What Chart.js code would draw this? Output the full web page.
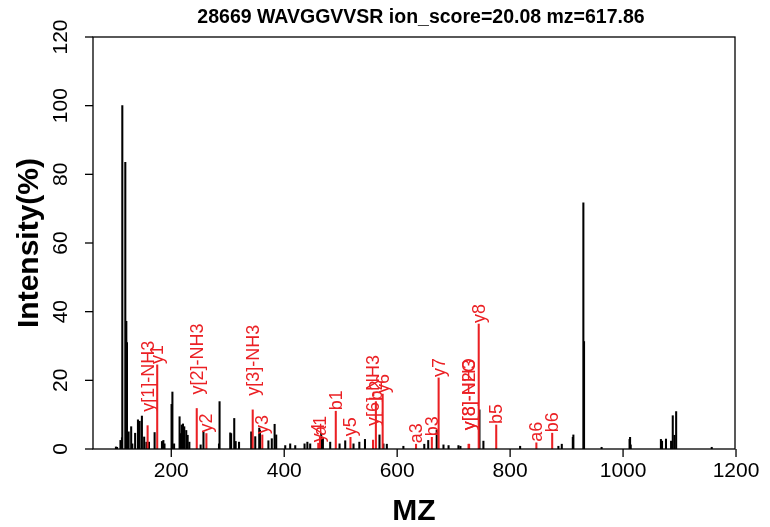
<!DOCTYPE html>
<html>
<head>
<meta charset="utf-8">
<script src="https://cdn.jsdelivr.net/npm/chart.js@4/dist/chart.umd.min.js"></script>
<style>
html,body{margin:0;padding:0;background:#fff;}
#wrap{width:770px;height:527px;position:relative;}
</style>
</head>
<body>
<div id="wrap"><canvas id="c" width="770" height="527"></canvas></div>
<script>
// ---- data ----
const titleText = "28669 WAVGGVVSR ion_score=20.08 mz=617.86";
const xTicks = [200, 400, 600, 800, 1000, 1200];
const yTicks = [0, 20, 40, 60, 80, 100, 120];

// unannotated peaks (black)
const peakMz = [102, 104, 110, 112.7, 113.3, 118.6, 120.4, 121.6, 124.5, 129, 131, 136, 141, 144, 148, 152, 156, 160.5, 170.5, 183.5, 186, 188,
  200.5, 202, 205, 214.7, 217, 218.5, 220.7, 223, 226.5, 229, 232, 252, 257, 284.5, 285.5, 304.4, 306, 311.5, 314, 320,
  341.6, 348.7, 355.8, 357, 372, 378, 383, 385.8, 401.8, 410.6, 419.5, 436, 441, 446, 465.5, 468.5,
  481.4, 498, 508, 522.7, 533, 543, 568.7, 575.7, 581.7, 611, 648, 655, 670, 682, 691, 708.5, 712,
  745.7, 752.7, 817.7, 885.5, 891.5, 911, 912, 929.7, 930.9, 962, 1011.5, 1012.4, 1013.5,
  1067, 1069, 1076, 1085, 1088, 1091, 1094, 1157];
const peakInt = [0.6, 0.5, 2.5, 3.3, 100, 83.5, 37.2, 31, 5.0, 6.5, 1.5, 4.6, 8.5, 8.1, 9.6, 3.5, 2, 2, 4.8, 2.2, 2.5, 1.5,
  13, 16.6, 1.5, 9.4, 4.5, 7, 7.3, 6.5, 5.4, 4, 2, 1.2, 5, 1.5, 13.8, 4.7, 4.5, 8.9, 2.2, 2,
  5.0, 3.6, 6.1, 5.5, 2.4, 3.0, 7.2, 4.1, 1, 1.5, 1, 1.5, 2, 1.5, 4.6, 3.1,
  2.0, 1.5, 2.4, 1.5, 2, 2.8, 4.1, 1.5, 1.4, 0.8, 1.4, 2.5, 5.5, 1.2, 1, 1, 0.8,
  11.4, 2.3, 0.8, 0.8, 1.4, 3.4, 4.1, 71.7, 31.3, 0.5, 2.8, 3.4, 1.2,
  2.8, 2.3, 2.9, 2.3, 9.7, 4, 10.9, 0.5];

// annotated fragment ions (red)
const ionMz = [158.1, 175.1, 245.1, 262.2, 344.2, 361.2, 460.3, 463.3, 491.3, 517.3, 557.3, 562.3, 574.3, 633.4, 661.4, 673.4, 726.4, 727.4, 744.4, 775.4, 846.5, 874.5];
const ionInt = [6.8, 24.5, 11.8, 4.5, 11.4, 4.1, 1.7, 3.6, 11.0, 3.4, 2.6, 13.8, 16.0, 1.4, 3.4, 20.7, 1.4, 1.4, 36.4, 7.0, 1.8, 4.6];
const ionLabels = ["y[1]-NH3", "y1", "y[2]-NH3", "y2", "y[3]-NH3", "y3", "y4", "a1", "b1", "y5", "y[6]-NH3", "b2", "y6", "a3", "b3", "y7", "y[8]-H2O", "y[8]-NH3", "y8", "b5", "a6", "b6"];

// ---- build dataset ----
const RED = 'rgb(235,32,36)';
const BLACK = '#000';
const points = [];
const colors = [];
peakMz.forEach((m, i) => { points.push({x: m, y: peakInt[i]}); colors.push(BLACK); });
ionMz.forEach((m, i) => { points.push({x: m, y: ionInt[i]}); colors.push(RED); });

const FONT = '"Liberation Sans", Arial, Helvetica, sans-serif';

const decor = {
  id: 'decor',
  afterDraw(chart) {
    const ctx = chart.ctx;
    const a = chart.chartArea;
    const xs = chart.scales.x, ys = chart.scales.y;
    ctx.save();
    // box
    ctx.strokeStyle = '#000';
    ctx.lineWidth = 1.3;
    ctx.strokeRect(a.left, a.top, a.right - a.left, a.bottom - a.top);
    // x ticks
    ctx.fillStyle = '#000';
    ctx.font = '21px ' + FONT;
    ctx.textAlign = 'center';
    ctx.textBaseline = 'middle';
    xTicks.forEach(v => {
      const px = xs.getPixelForValue(v);
      ctx.beginPath(); ctx.moveTo(px, a.bottom); ctx.lineTo(px, a.bottom + 8); ctx.stroke();
      ctx.fillText(String(v), px, a.bottom + 22);
    });
    // y ticks
    yTicks.forEach(v => {
      const py = ys.getPixelForValue(v);
      ctx.beginPath(); ctx.moveTo(a.left - 8, py); ctx.lineTo(a.left, py); ctx.stroke();
      ctx.save();
      ctx.translate(a.left - 32, py);
      ctx.rotate(-Math.PI / 2);
      ctx.fillText(String(v), 0, 0);
      ctx.restore();
    });
    // ion labels
    ctx.fillStyle = RED;
    ctx.font = '18px ' + FONT;
    ctx.textAlign = 'left';
    ctx.textBaseline = 'middle';
    ionMz.forEach((m, i) => {
      const px = xs.getPixelForValue(m);
      const py = ys.getPixelForValue(ionInt[i]);
      const off = ionLabels[i].indexOf('-') >= 0 ? 14 : 1;
      ctx.save();
      ctx.translate(px + 1, py - off);
      ctx.rotate(-Math.PI / 2);
      ctx.fillText(ionLabels[i], 0, 0);
      ctx.restore();
    });
    // titles
    ctx.fillStyle = '#000';
    ctx.textAlign = 'center';
    ctx.textBaseline = 'middle';
    ctx.font = 'bold 19.5px ' + FONT;
    ctx.fillText(titleText, 421, 18);
    ctx.font = 'bold 30px ' + FONT;
    ctx.fillText('MZ', (a.left + a.right) / 2, 512);
    ctx.save();
    ctx.translate(30, (a.top + a.bottom) / 2);
    ctx.rotate(-Math.PI / 2);
    ctx.fillText('Intensity(%)', 0, 0);
    ctx.restore();
    ctx.restore();
  }
};

new Chart(document.getElementById('c'), {
  type: 'bar',
  data: {
    datasets: [{
      data: points,
      backgroundColor: colors,
      borderWidth: 0,
      barThickness: 1.4
    }]
  },
  options: {
    responsive: false,
    animation: false,
    events: [],
    layout: { padding: { left: 93, right: 35, top: 37, bottom: 78 } },
    plugins: { legend: { display: false }, tooltip: { enabled: false }, title: { display: false } },
    scales: {
      x: { type: 'linear', min: 61.4, max: 1198.2, offset: false, display: false, grid: { offset: false } },
      y: { type: 'linear', min: 0, max: 120, display: false }
    }
  },
  plugins: [decor]
});
</script>
</body>
</html>
